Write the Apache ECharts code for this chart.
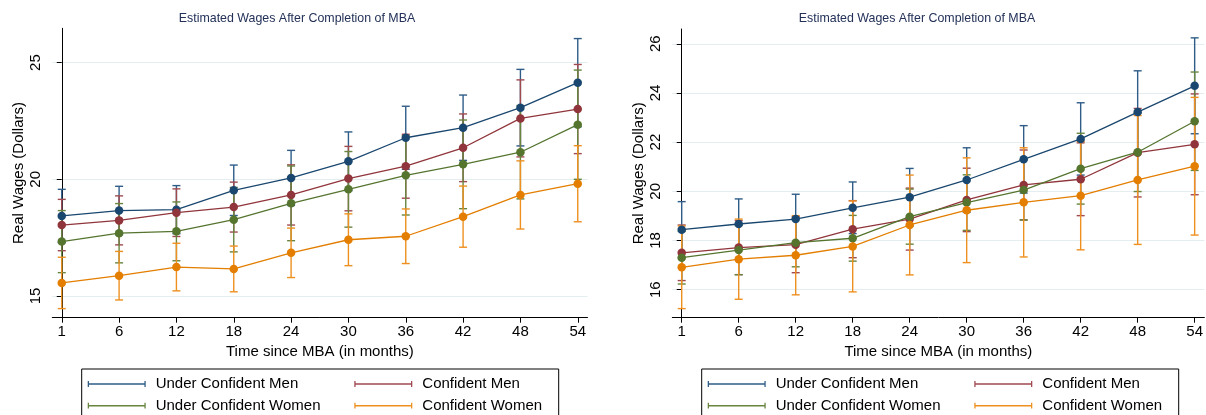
<!DOCTYPE html>
<html><head><meta charset="utf-8">
<script src="https://cdn.jsdelivr.net/npm/echarts@6/dist/echarts.min.js"></script>
<style>html,body{margin:0;padding:0;background:#fff}#c{width:1206px;height:415px}</style>
</head><body><div id="c"></div><script>
// ---- data ----
const months = ['1', '6', '12', '18', '24', '30', '36', '42', '48', '54'];
const seriesNames = ['Under Confident Men', 'Confident Men', 'Under Confident Women', 'Confident Women'];
const chartTitle = 'Estimated Wages After Completion of MBA';
const yTitle = 'Real Wages (Dollars)';
const xTitle = 'Time since MBA (in months)';
const leftYTicks = [15, 20, 25];
const rightYTicks = [16, 18, 20, 22, 24, 26];

// Left panel: point estimates and half-widths of confidence intervals
const leftUCM = [18.43, 18.66, 18.70, 19.53, 20.06, 20.77, 21.78, 22.21, 23.07, 24.14];
const leftUCMerr = [1.14, 1.04, 1.03, 1.08, 1.18, 1.26, 1.35, 1.40, 1.64, 1.89];
const leftCM = [18.04, 18.24, 18.57, 18.81, 19.33, 20.03, 20.56, 21.35, 22.61, 23.01];
const leftCMerr = [1.10, 1.05, 1.02, 1.07, 1.29, 1.38, 1.37, 1.45, 1.65, 1.91];
const leftUCW = [17.33, 17.69, 17.77, 18.27, 18.97, 19.57, 20.17, 20.64, 21.16, 22.34];
const leftUCWerr = [1.33, 1.27, 1.26, 1.38, 1.60, 1.62, 1.70, 1.90, 2.00, 2.34];
const leftCW = [15.56, 15.87, 16.24, 16.16, 16.85, 17.41, 17.56, 18.40, 19.33, 19.81];
const leftCWerr = [1.10, 1.04, 1.02, 0.98, 1.06, 1.11, 1.17, 1.31, 1.46, 1.63];

// Right panel
const rightUCM = [18.44, 18.67, 18.87, 19.33, 19.76, 20.46, 21.30, 22.13, 23.22, 24.29];
const rightUCMerr = [1.14, 1.02, 1.01, 1.05, 1.17, 1.31, 1.37, 1.47, 1.68, 1.95];
const rightCM = [17.50, 17.71, 17.83, 18.46, 18.87, 19.65, 20.26, 20.49, 21.57, 21.91];
const rightCMerr = [1.13, 1.10, 1.14, 1.16, 1.26, 1.29, 1.42, 1.48, 1.80, 2.05];
const rightUCW = [17.30, 17.61, 17.91, 18.09, 18.97, 19.54, 20.05, 20.92, 21.59, 22.85];
const rightUCWerr = [1.07, 1.00, 0.98, 0.93, 1.12, 1.13, 1.22, 1.44, 1.60, 2.00];
const rightCW = [16.91, 17.24, 17.40, 17.76, 18.63, 19.23, 19.55, 19.82, 20.46, 21.02];
const rightCWerr = [1.68, 1.63, 1.61, 1.85, 2.03, 2.13, 2.22, 2.20, 2.62, 2.80];

// ---- style ----
const colors = ['#1a476f', '#90353b', '#55752f', '#e37e00'];
const barColors = ['#2f5d88', '#a04a50', '#67853f', '#ee9020'];
const FONT = '"Liberation Sans", Arial, Helvetica, sans-serif';
const idx = months.map((_, i) => i);

const panels = [
  { means: [leftUCM, leftCM, leftUCW, leftCW], errs: [leftUCMerr, leftCMerr, leftUCWerr, leftCWerr],
    yMin: 14.07, yMax: 26.47, yTicks: leftYTicks },
  { means: [rightUCM, rightCM, rightUCW, rightCW], errs: [rightUCMerr, rightCMerr, rightUCWerr, rightCWerr],
    yMin: 14.86, yMax: 26.6, yTicks: rightYTicks }
];

const grids = [
  { left: 52.3, top: 28.3, width: 535.2, height: 289.4 },
  { left: 672.3, top: 29, width: 535.5, height: 288.7 }
];

const xAxes = panels.map((p, k) => ({
  type: 'value', gridIndex: k, min: -0.165, max: 9.17,
  axisLine: { show: true, lineStyle: { color: '#000', width: 1 } },
  axisTick: { show: true, length: 5, customValues: idx, lineStyle: { color: '#000', width: 1 } },
  axisLabel: { customValues: idx, formatter: v => months[Math.round(v)], fontSize: 15, color: '#000', margin: 7, fontFamily: FONT },
  splitLine: { show: false },
  name: xTitle, nameLocation: 'middle', nameGap: 26,
  nameTextStyle: { fontSize: 15, color: '#000', fontFamily: FONT }
}));

const yAxes = panels.map((p, k) => ({
  type: 'value', gridIndex: k, min: p.yMin, max: p.yMax,
  axisLine: { show: true, lineStyle: { color: '#000', width: 1 } },
  axisTick: { show: true, length: 5, customValues: p.yTicks, lineStyle: { color: '#000', width: 1 } },
  axisLabel: { customValues: p.yTicks, rotate: 90, fontSize: 15, color: '#000', margin: 9, fontFamily: FONT },
  splitLine: { show: true, lineStyle: { color: '#e4edf0', width: 1 } },
  name: yTitle, nameLocation: 'middle', nameGap: 26,
  nameTextStyle: { fontSize: 15, color: '#000', fontFamily: FONT }
}));

const series = [];
panels.forEach((p, k) => {
  p.means.forEach((m, s) => {
    const e = p.errs[s];
    series.push({
      type: 'custom', name: seriesNames[s], xAxisIndex: k, yAxisIndex: k, z: 2,
      itemStyle: { color: barColors[s] },
      data: m.map((v, i) => [i, v - e[i], v + e[i]]),
      renderItem: (params, api) => {
        const x = api.value(0);
        const lo = api.coord([x, api.value(1)]);
        const hi = api.coord([x, api.value(2)]);
        const w = 4;
        const st = { stroke: barColors[s], lineWidth: 1.4, fill: null };
        return { type: 'group', children: [
          { type: 'line', shape: { x1: lo[0], y1: lo[1], x2: hi[0], y2: hi[1] }, style: st },
          { type: 'line', shape: { x1: lo[0] - w, y1: lo[1], x2: lo[0] + w, y2: lo[1] }, style: st },
          { type: 'line', shape: { x1: hi[0] - w, y1: hi[1], x2: hi[0] + w, y2: hi[1] }, style: st }
        ] };
      },
      silent: true
    });
  });
});
panels.forEach((p, k) => {
  p.means.forEach((m, s) => {
    series.push({
      type: 'line', name: seriesNames[s], xAxisIndex: k, yAxisIndex: k, z: 3,
      data: m.map((v, i) => [i, v]),
      symbol: 'circle', symbolSize: 8.5, showSymbol: true,
      lineStyle: { color: colors[s], width: 1.3 },
      itemStyle: { color: colors[s] },
      animation: false
    });
  });
});

const icon = 'path://M0,0 L2.2,0 L2.2,10 L0,10 Z M0,3.8 L100,3.8 L100,6.2 L0,6.2 Z M97.8,0 L100,0 L100,10 L97.8,10 Z';
function mkLegend(left, names) {
  return {
    orient: 'vertical', left: left, top: 376, padding: 0, itemGap: 5.7,
    itemWidth: 58, itemHeight: 6, icon: icon,
    data: names.map(n => ({ name: n, itemStyle: { color: barColors[seriesNames.indexOf(n)], borderWidth: 0 } })),
    textStyle: { fontSize: 15, color: '#000', fontFamily: FONT, lineHeight: 16, padding: [0, 0, 0, 5] },
    selectedMode: false
  };
}
const legends = [
  mkLegend(87.7, [seriesNames[0], seriesNames[2]]),
  mkLegend(354.3, [seriesNames[1], seriesNames[3]]),
  mkLegend(707.7, [seriesNames[0], seriesNames[2]]),
  mkLegend(974.3, [seriesNames[1], seriesNames[3]])
];

const chart = echarts.init(document.getElementById('c'), null, { renderer: 'canvas' });
chart.setOption({
  animation: false,
  backgroundColor: '#fff',
  title: [
    { text: chartTitle, left: 297, top: 13, textAlign: 'center', padding: 0,
      textStyle: { fontSize: 12.4, fontWeight: 'normal', color: '#233158', fontFamily: FONT } },
    { text: chartTitle, left: 917, top: 13, textAlign: 'center', padding: 0,
      textStyle: { fontSize: 12.4, fontWeight: 'normal', color: '#233158', fontFamily: FONT } }
  ],
  grid: grids,
  xAxis: xAxes,
  yAxis: yAxes,
  legend: legends,
  graphic: [
    { type: 'rect', shape: { x: 81.7, y: 369, width: 477, height: 60 }, style: { fill: null, stroke: '#000', lineWidth: 1 }, silent: true },
    { type: 'rect', shape: { x: 701.7, y: 369, width: 477, height: 60 }, style: { fill: null, stroke: '#000', lineWidth: 1 }, silent: true }
  ],
  series: series
});
</script></body></html>
